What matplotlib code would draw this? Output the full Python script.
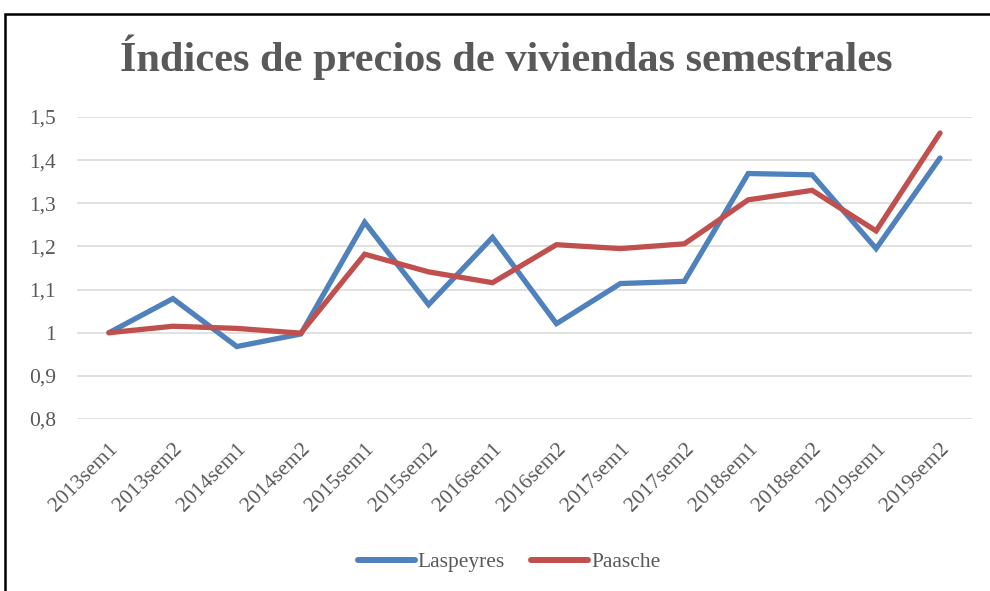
import matplotlib
matplotlib.use("Agg")
import matplotlib.pyplot as plt
from matplotlib.patches import Rectangle
from matplotlib.ticker import FuncFormatter

# datos
periodos = ["2013sem1", "2013sem2", "2014sem1", "2014sem2", "2015sem1",
            "2015sem2", "2016sem1", "2016sem2", "2017sem1", "2017sem2",
            "2018sem1", "2018sem2", "2019sem1", "2019sem2"]
laspeyres = [1.000, 1.079, 0.968, 0.997, 1.256, 1.065, 1.221,
             1.021, 1.114, 1.119, 1.369, 1.366, 1.195, 1.405]
paasche = [1.000, 1.015, 1.010, 0.999, 1.182, 1.141, 1.116,
           1.204, 1.195, 1.206, 1.308, 1.330, 1.236, 1.463]
yticks = [0.8, 0.9, 1.0, 1.1, 1.2, 1.3, 1.4, 1.5]

plt.rcParams['font.family'] = ['Liberation Serif', 'DejaVu Serif']
gris = '#595959'

fig = plt.figure(figsize=(9.9, 5.91), dpi=100)
ax = fig.add_axes([77/990, 1 - 419/591, (972 - 77)/990, (419 - 117)/591])

x = range(len(periodos))
ax.plot(x, laspeyres, color='#4F81BD', lw=3.8, label='Laspeyres',
        solid_capstyle='round', solid_joinstyle='miter')
ax.plot(x, paasche, color='#C0504D', lw=3.8, label='Paasche',
        solid_capstyle='round', solid_joinstyle='miter')

ax.set_xlim(-0.5, len(periodos) - 0.5)
ax.set_ylim(0.8, 1.5)
ax.set_yticks(yticks)
ax.yaxis.set_major_formatter(FuncFormatter(
    lambda v, p: ('%g' % round(v, 1)).replace('.', ',')))
ax.set_xticks(list(x))
ax.set_xticklabels(periodos, rotation=45, ha='right', rotation_mode='anchor')
ax.grid(axis='y', color='#D9D9D9', lw=1.1)
ax.set_axisbelow(True)
for s in ax.spines.values():
    s.set_visible(False)
ax.tick_params(axis='both', length=0, labelsize=15.5, colors=gris)
ax.tick_params(axis='y', pad=15)
ax.tick_params(axis='x', pad=15)

fig.text(506/990, 1 - 57/591, 'Índices de precios de viviendas semestrales',
         ha='center', va='center', fontsize=30.5, fontweight='bold', color=gris)

leg = fig.legend(loc='center', bbox_to_anchor=(509/990, 1 - 562/591), ncol=2,
                 frameon=False, fontsize=15.5, handlelength=2.65,
                 handletextpad=0.15, columnspacing=1.2)
for t in leg.get_texts():
    t.set_color(gris)
for h in leg.get_lines():
    h.set_linewidth(4.3)
    h.set_solid_capstyle('round')

# marco del grafico
fig.patches.append(Rectangle((5/990, -0.2), 1.2, 1 - 14/591 + 0.2,
                             transform=fig.transFigure, fill=False,
                             edgecolor='black', lw=1.8))

fig.savefig('out.png', dpi=100)
